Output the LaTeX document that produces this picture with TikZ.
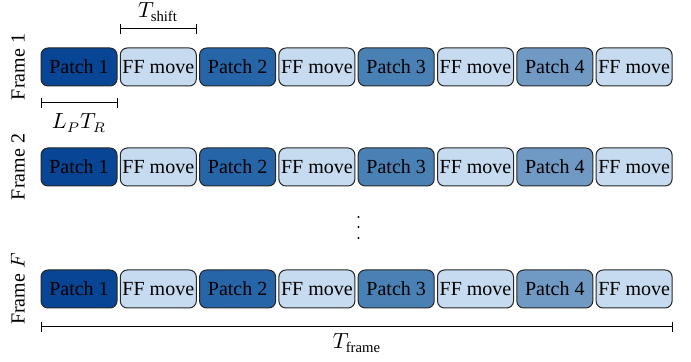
\documentclass[tikz,border=0pt]{standalone}
\usepackage{fontspec}
\setmainfont{Liberation Serif}
\usetikzlibrary{arrows.meta,calc}
\definecolor{pone}{RGB}{8,69,148}
\definecolor{ptwo}{RGB}{37,101,168}
\definecolor{pthree}{RGB}{74,129,180}
\definecolor{pfour}{RGB}{112,153,196}
\definecolor{ffc}{RGB}{198,219,239}
\tikzset{
  blk/.style={draw=black!85, line width=0.5pt, rounded corners=3.5pt, minimum width=38pt, minimum height=19pt, inner sep=0pt, font=\fontsize{10}{12}\selectfont},
  brk/.style={line width=0.5pt, {Bar[width=5pt]}-{Bar[width=5pt]}},
  flab/.style={rotate=90, font=\fontsize{10}{12}\selectfont},
  mlab/.style={font=\fontsize{10.5}{12}\selectfont},
  dotc/.style={circle, fill=black, inner sep=0pt, minimum size=1.1pt}
}
\begin{document}
\begin{tikzpicture}[x=0.5pt,y=-0.5pt]
\useasboundingbox (0,0) rectangle (691,362);
\foreach \r/\y in {1/67,2/167,3/289}{
  \node[blk, fill=pone] (r\r b1) at (79,\y) {Patch 1};
  \node[blk, fill=ffc] (r\r b2) at (158.3,\y) {FF move};
  \node[blk, fill=ptwo] (r\r b3) at (237.6,\y) {Patch 2};
  \node[blk, fill=ffc] (r\r b4) at (316.9,\y) {FF move};
  \node[blk, fill=pthree] (r\r b5) at (396.2,\y) {Patch 3};
  \node[blk, fill=ffc] (r\r b6) at (475.5,\y) {FF move};
  \node[blk, fill=pfour] (r\r b7) at (554.8,\y) {Patch 4};
  \node[blk, fill=ffc] (r\r b8) at (634.1,\y) {FF move};
}
\node[flab] (f1) at (18,67) {Frame 1};
\node[flab] (f2) at (18,167) {Frame 2};
\node[flab] (f3) at (18,289) {Frame $F$};
\node[dotc] (d1) at (358.5,217) {};
\node[dotc] (d2) at (358.5,227) {};
\node[dotc] (d3) at (358.5,238) {};
% T_shift
\coordinate (ts1) at (r1b2.west |- 0,29);
\coordinate (ts2) at (r1b2.east |- 0,29);
\draw[brk] (ts1) -- (ts2);
\node[mlab] (tsl) at (158,12) {$T_{\mathrm{shift}}$};
% L_P T_R
\coordinate (lp1) at (r1b1.west |- 0,103);
\coordinate (lp2) at (r1b1.east |- 0,103);
\draw[brk] (lp1) -- (lp2);
\node[mlab] (lpl) at (79,123) {$L_PT_R$};
% T_frame
\coordinate (tf1) at (r3b1.west |- 0,327);
\coordinate (tf2) at (r3b8.east |- 0,327);
\draw[brk] (tf1) -- (tf2);
\node[mlab] (tfl) at (357,343) {$T_{\mathrm{frame}}$};
\end{tikzpicture}
\end{document}
